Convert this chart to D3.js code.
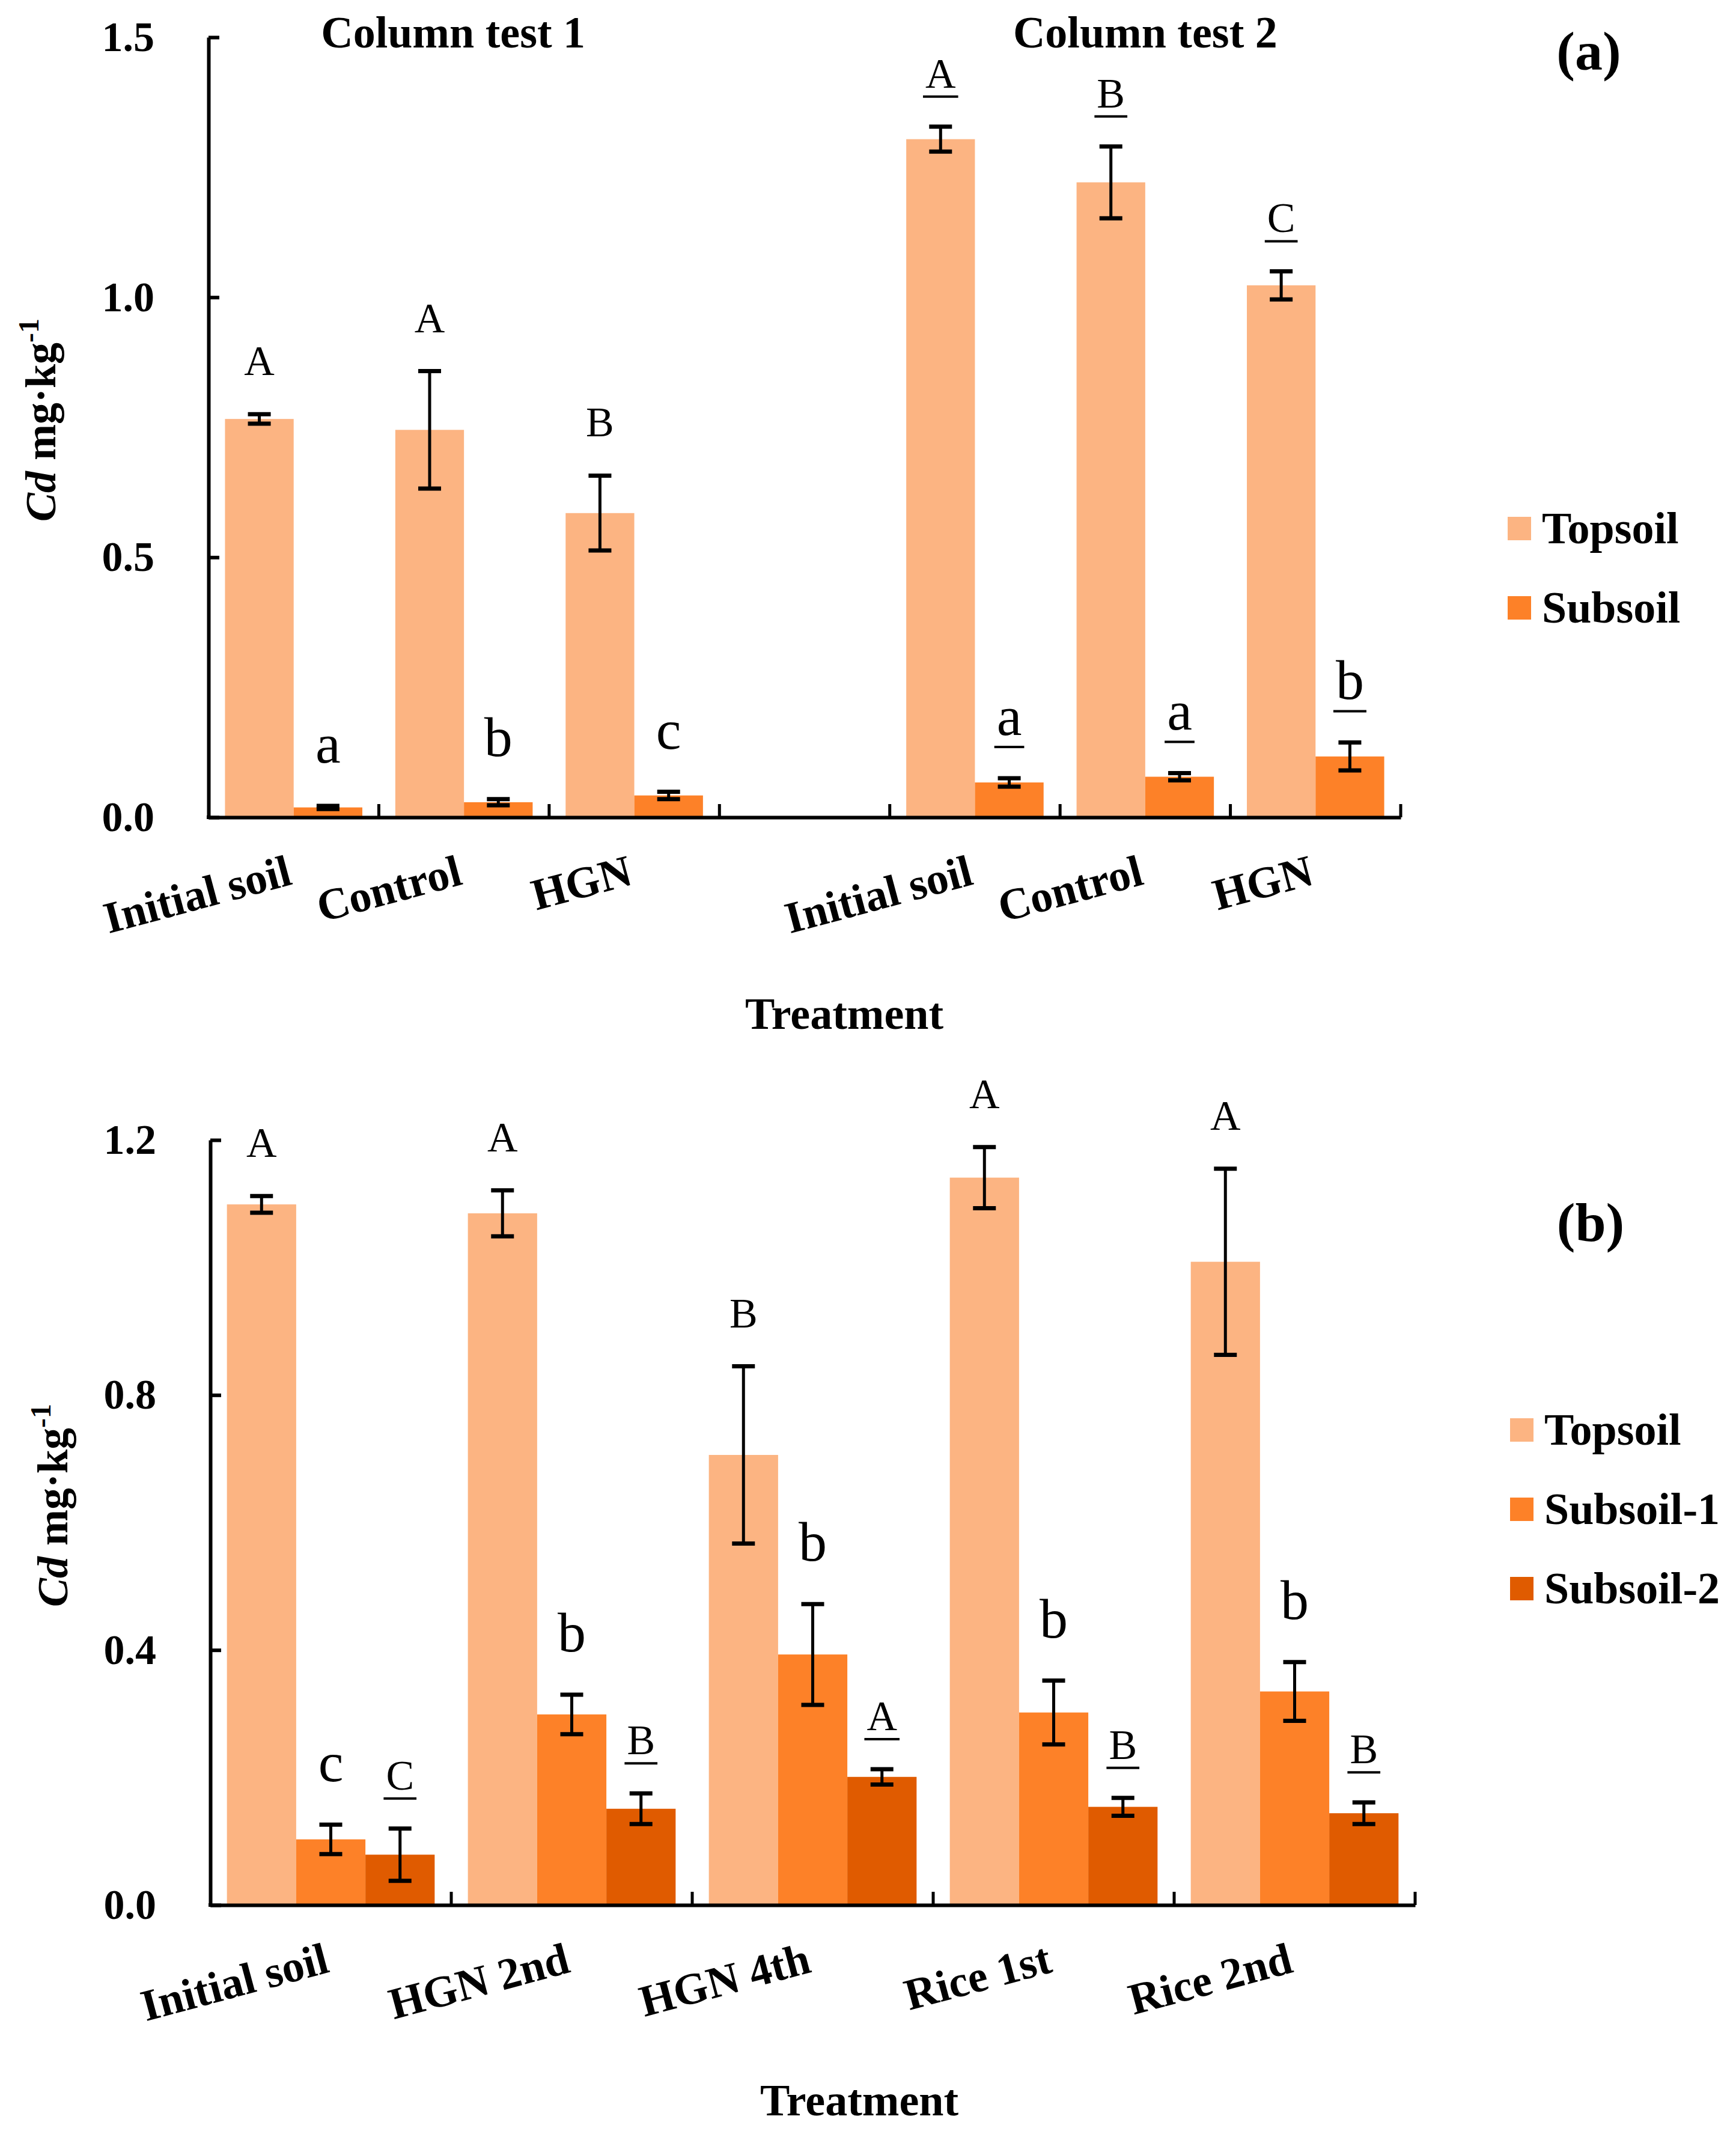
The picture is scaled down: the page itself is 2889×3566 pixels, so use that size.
<!DOCTYPE html>
<html>
<head>
<meta charset="utf-8">
<script src="https://cdn.jsdelivr.net/npm/d3@7"></script>
<style>
  body { margin: 0; background: #fff; }
  text { font-family: "Liberation Serif", "Times New Roman", serif; }
</style>
</head>
<body>
<script>
// ---- panel (a): two column tests, an empty slot between them ----
var catsA = ["Initial soil", "Control", "HGN", "", "Initial soil", "Control", "HGN"];
var seriesA = ["Topsoil", "Subsoil"];
var topsoilA = [0.766, 0.745, 0.585, null, 1.304, 1.221, 1.023];
var topsoilAErr = [0.009, 0.113, 0.072, null, 0.024, 0.069, 0.027];
var subsoilA = [0.019, 0.029, 0.042, null, 0.067, 0.078, 0.117];
var subsoilAErr = [0.003, 0.006, 0.007, null, 0.008, 0.007, 0.027];
var topsoilALetters = ["A", "A", "B", null, "A", "B", "C"];
var subsoilALetters = ["a", "b", "c", null, "a", "a", "b"];
var underlinedA = [false, false, false, false, true, true, true];
var testTitles = ["Column test 1", "Column test 2"];
var ticksA = [0, 0.5, 1.0, 1.5];

// ---- panel (b) ----
var catsB = ["Initial soil", "HGN 2nd", "HGN 4th", "Rice 1st", "Rice 2nd"];
var seriesB = ["Topsoil", "Subsoil-1", "Subsoil-2"];
var topsoilB = [1.099, 1.085, 0.706, 1.141, 1.009];
var topsoilBErr = [0.013, 0.036, 0.139, 0.048, 0.146];
var subsoil1B = [0.103, 0.299, 0.393, 0.302, 0.335];
var subsoil1BErr = [0.023, 0.031, 0.079, 0.050, 0.046];
var subsoil2B = [0.079, 0.151, 0.201, 0.154, 0.144];
var subsoil2BErr = [0.041, 0.024, 0.012, 0.014, 0.017];
var topsoilBLetters = ["A", "A", "B", "A", "A"];
var subsoil1BLetters = ["c", "b", "b", "b", "b"];
var subsoil2BLetters = ["C", "B", "A", "B", "B"];
var ticksB = [0, 0.4, 0.8, 1.2];

var colors = ["#FCB482", "#FD8128", "#E05B00"];

var W = 2889, H = 3566;
var svg = d3.select("body").append("svg")
  .attr("width", W)
  .attr("height", H);
svg.append("rect").attr("width", W).attr("height", H).attr("fill", "#fff");

function panel(o) {
  var g = svg.append("g");
  var n = o.cats.length;
  var x = d3.scaleBand().domain(d3.range(n)).range([o.left, o.right]);
  var xs = d3.scaleBand().domain(d3.range(o.series.length))
    .range([0, x.bandwidth()]).paddingOuter(0.24);
  var y = d3.scaleLinear().domain([0, o.max]).range([o.bottom, o.top]);

  var rows = [];
  o.series.forEach(function(s, si) {
    d3.range(n).forEach(function(i) {
      if (o.values[si][i] == null) return;
      rows.push({i: i, si: si, v: o.values[si][i], e: o.errors[si][i],
                 l: o.letters[si][i], u: o.underline[si][i]});
    });
  });

  // bars
  g.selectAll(null).data(rows).enter().append("rect")
    .attr("x", function(d) { return x(d.i) + xs(d.si); })
    .attr("y", function(d) { return y(d.v); })
    .attr("width", xs.bandwidth())
    .attr("height", function(d) { return y(0) - y(d.v); })
    .attr("fill", function(d) { return colors[d.si]; });

  // axes
  var yAxis = g.append("g")
    .attr("transform", "translate(" + o.left + ",0)")
    .call(d3.axisLeft(y).tickValues(o.ticks).tickFormat(d3.format(".1f"))
      .tickSizeInner(-18).tickSizeOuter(0).tickPadding(90));
  yAxis.attr("font-family", null).attr("font-size", 70).attr("font-weight", "bold");
  yAxis.selectAll("path, line").attr("stroke", "#000").attr("stroke-width", 6);

  var xAxis = g.append("g")
    .attr("transform", "translate(0," + o.bottom + ")")
    .call(d3.axisBottom(x).tickValues([]).tickSizeOuter(0));
  xAxis.select(".domain").attr("stroke", "#000").attr("stroke-width", 6);
  g.append("line").attr("x1", o.left).attr("x2", o.left)
    .attr("y1", o.bottom - 3).attr("y2", o.bottom + 3)
    .attr("stroke", "#000").attr("stroke-width", 6);

  g.selectAll(null).data(d3.range(1, n + 1)).enter().append("line")
    .attr("x1", function(i) { return o.left + i * x.step(); })
    .attr("x2", function(i) { return o.left + i * x.step(); })
    .attr("y1", o.bottom).attr("y2", o.bottom - 22)
    .attr("stroke", "#000").attr("stroke-width", 5);

  // error bars
  var eb = g.selectAll(null).data(rows).enter().append("g")
    .attr("stroke", "#000").attr("stroke-width", 7);
  eb.append("line")
    .attr("x1", function(d) { return x(d.i) + xs(d.si) + xs.bandwidth() / 2; })
    .attr("x2", function(d) { return x(d.i) + xs(d.si) + xs.bandwidth() / 2; })
    .attr("y1", function(d) { return y(d.v - d.e); })
    .attr("y2", function(d) { return y(d.v + d.e); })
    .attr("stroke-width", 5);
  [-1, 1].forEach(function(k) {
    eb.append("line")
      .attr("x1", function(d) { return x(d.i) + xs(d.si) + xs.bandwidth() / 2 - 19; })
      .attr("x2", function(d) { return x(d.i) + xs(d.si) + xs.bandwidth() / 2 + 19; })
      .attr("y1", function(d) { return y(d.v + k * d.e); })
      .attr("y2", function(d) { return y(d.v + k * d.e); });
  });

  // significance letters (lower case ones are set larger, as in the figure)
  rows.forEach(function(d) {
    var lower = d.l === d.l.toLowerCase();
    var cx = x(d.i) + xs(d.si) + xs.bandwidth() / 2;
    var by = y(d.v + d.e) - (lower ? 72 : 65);
    var t = g.append("text").attr("x", cx).attr("y", by)
      .attr("text-anchor", "middle").attr("font-size", lower ? 94 : 70).text(d.l);
    if (d.u) {
      var w = t.node().getComputedTextLength() + 8;
      g.append("line").attr("x1", cx - w / 2).attr("x2", cx + w / 2)
        .attr("y1", by + (lower ? 20 : 15)).attr("y2", by + (lower ? 20 : 15))
        .attr("stroke", "#000").attr("stroke-width", 4);
    }
  });

  // category labels
  g.selectAll(null).data(d3.range(n).filter(function(i) { return o.cats[i]; }))
    .enter().append("text")
    .attr("transform", function(i) {
      return "translate(" + (x(i) + x.bandwidth() / 2) + "," + (o.bottom + 111) + ") rotate(-15)";
    })
    .attr("text-anchor", "end").attr("font-size", 74).attr("font-weight", "bold")
    .text(function(i) { return o.cats[i]; });

  g.append("text").attr("x", o.xTitleX).attr("y", o.xTitleY)
    .attr("text-anchor", "middle").attr("font-size", 74).attr("font-weight", "bold")
    .text("Treatment");

  var yt = g.append("text")
    .attr("transform", "translate(" + o.yTitleX + "," + o.yTitleY + ") rotate(-90)")
    .attr("text-anchor", "middle").attr("font-size", 72).attr("font-weight", "bold");
  yt.append("tspan").attr("font-style", "italic").text("Cd");
  yt.append("tspan").text(" mg\u00b7kg");
  yt.append("tspan").attr("font-size", 48).attr("dy", -28).text("-1");

  // legend
  var lg = g.selectAll(null).data(o.series).enter().append("g")
    .attr("transform", function(s, i) { return "translate(" + o.legX + "," + (o.legY + i * 132) + ")"; });
  lg.append("rect").attr("width", 39).attr("height", 39)
    .attr("fill", function(s, i) { return colors[i]; });
  lg.append("text").attr("x", 57).attr("y", 44)
    .attr("font-size", 74).attr("font-weight", "bold")
    .text(function(s) { return s; });

  g.append("text").attr("x", o.tagX).attr("y", o.tagY)
    .attr("text-anchor", "middle").attr("font-size", 92).attr("font-weight", "bold")
    .text(o.tag);

  return {x: x, g: g};
}

var pa = panel({
  cats: catsA, series: seriesA,
  values: [topsoilA, subsoilA], errors: [topsoilAErr, subsoilAErr],
  letters: [topsoilALetters, subsoilALetters],
  underline: [underlinedA, underlinedA],
  ticks: ticksA, max: 1.5,
  left: 347, right: 2331, top: 62, bottom: 1360,
  xTitleX: 1405, xTitleY: 1712,
  yTitleX: 92, yTitleY: 699,
  legX: 2509, legY: 860, tag: "(a)", tagX: 2644, tagY: 116
});

// column test headings, centred over their three categories
[[0, 2], [4, 6]].forEach(function(r, k) {
  var cx = (pa.x(r[0]) + pa.x(r[1]) + pa.x.bandwidth()) / 2;
  pa.g.append("text").attr("x", cx - (k === 0 ? 18 : 0)).attr("y", 79)
    .attr("text-anchor", "middle").attr("font-size", 74).attr("font-weight", "bold")
    .text(testTitles[k]);
});

panel({
  cats: catsB, series: seriesB,
  values: [topsoilB, subsoil1B, subsoil2B],
  errors: [topsoilBErr, subsoil1BErr, subsoil2BErr],
  letters: [topsoilBLetters, subsoil1BLetters, subsoil2BLetters],
  underline: [catsB.map(function() { return false; }),
              catsB.map(function() { return false; }),
              catsB.map(function() { return true; })],
  ticks: ticksB, max: 1.2,
  left: 350, right: 2355, top: 1897, bottom: 3170,
  xTitleX: 1430, xTitleY: 3520,
  yTitleX: 112, yTitleY: 2505,
  legX: 2513, legY: 2360, tag: "(b)", tagX: 2647, tagY: 2065
});
</script>
</body>
</html>
